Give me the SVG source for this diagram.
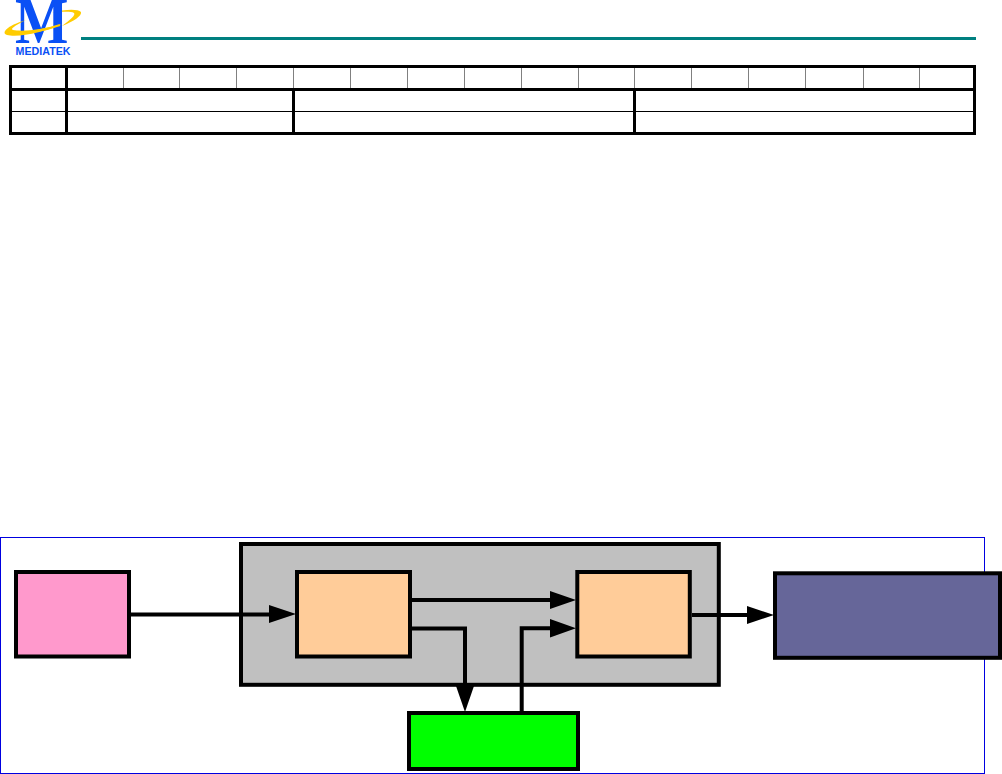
<svg xmlns="http://www.w3.org/2000/svg" width="1002" height="774" viewBox="0 0 1002 774">
<style>
.th{fill:none;stroke:#000;stroke-width:3}
.tn{stroke:#808080;stroke-width:1}
.box{stroke:#000;stroke-width:4}
.cn{fill:none;stroke:#000;stroke-width:4}
.ah{fill:#000}
</style>
<rect width="1002" height="774" fill="#fff"/>
<g id="logo">
<path d="M52 13C65 9 78 9 81 12C82 16 74 21 62 26C70 20 76 15 74 13C70 11 60 12 52 13Z" fill="#FFCC00"/>
<text transform="translate(15 43) scale(0.87 1)" font-family="Liberation Serif, serif" font-weight="700" font-size="65" fill="#0A50F5">M</text>
<path d="M62 24C46 32 18 38 7 35C1 33 6 26 26 20C14 26 10 29 13 30C24 32 46 29 62 24Z" fill="#FFCC00"/>
<path d="M60 25C46 30 26 33 11 33" fill="none" stroke="#FFCC00" stroke-width="2"/>
<text x="15.500" y="55" textLength="55" lengthAdjust="spacingAndGlyphs" font-family="Liberation Sans, sans-serif" font-weight="700" font-size="11.500" fill="#0A50F5">MEDIATEK</text>
</g>
<rect id="header-rule" x="81" y="37" width="895" height="3" fill="#008080"/>
<g id="header-table">
<path class="tn" d="M123.500 67V88M179.500 67V88M236.500 67V88M293.500 67V88M350.500 67V88M407.500 67V88M464.500 67V88M521.500 67V88M578.500 67V88M634.500 67V88M691.500 67V88M748.500 67V88M805.500 67V88M863.500 67V88M919.500 67V88"/>
<path d="M11 111.500H974" stroke="#000" stroke-width="1"/>
<rect class="th" x="10.500" y="66.500" width="964" height="67"/>
<path class="th" d="M10 89.500H975M66.500 66V134M293.500 89V134M634.500 89V134"/>
</g>
<rect id="frame" x="0.500" y="537.500" width="984" height="236" fill="none" stroke="#0000E0" stroke-width="1"/>
<g id="block-source"><rect class="box" x="16" y="572" width="113" height="84.500" fill="#FF99CC"/></g>
<g id="block-container"><rect class="box" x="241" y="544" width="477.800" height="140.800" fill="#C0C0C0"/></g>
<g id="block-a"><rect class="box" x="297" y="572" width="113" height="84.500" fill="#FFCC99"/></g>
<g id="block-b"><rect class="box" x="577.300" y="572" width="112.500" height="84.500" fill="#FFCC99"/></g>
<g id="block-memory"><rect class="box" x="409" y="713" width="169" height="56" fill="#00FF00"/></g>
<g id="block-sink"><rect class="box" x="775" y="573.300" width="225" height="84.500" fill="#666699"/></g>
<g id="connectors">
<path class="cn" d="M131 614.500H270"/><path class="ah" d="M269 605L296 614L269 623Z"/>
<path class="cn" d="M412 600H551"/><path class="ah" d="M550 591L576 600L550 609Z"/>
<path class="cn" d="M412 628.500H465V688"/><path class="ah" d="M456 686L465 712L474 686Z"/>
<path class="cn" d="M521.700 711V628.300H551"/><path class="ah" d="M550 619L576 628.300L550 637.500Z"/>
<path class="cn" d="M692 615H748"/><path class="ah" d="M747 606L774 615L747 624Z"/>
</g>
</svg>
